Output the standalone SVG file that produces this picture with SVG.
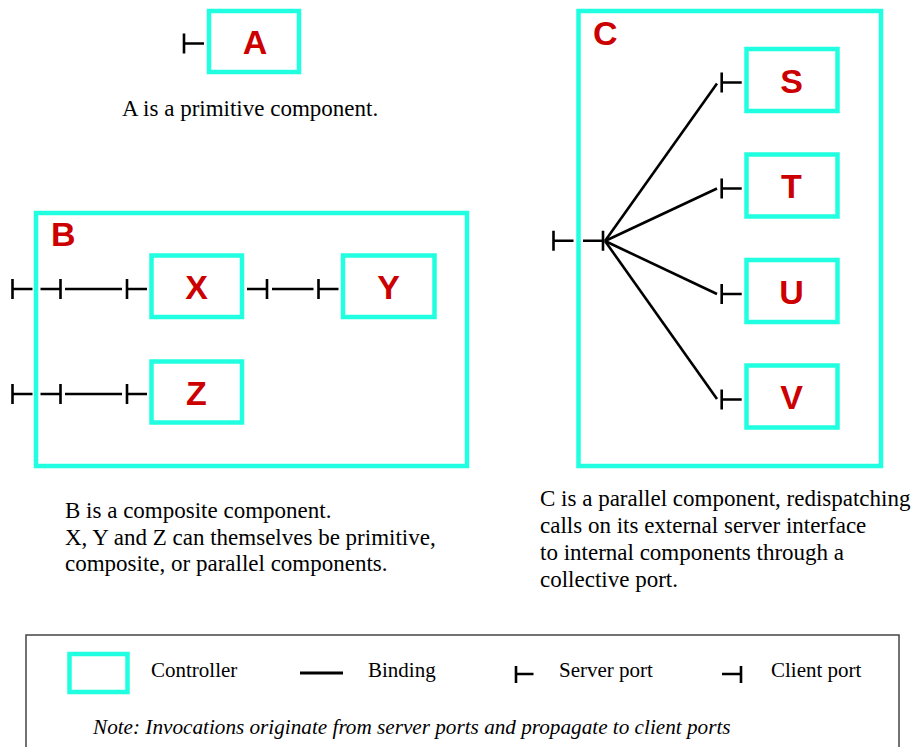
<svg xmlns="http://www.w3.org/2000/svg" xmlns:xlink="http://www.w3.org/1999/xlink" width="912" height="747" viewBox="0 0 912 747">
<style>
.ctrl{fill:#ffffff;stroke:#20ffe0;stroke-width:4.5}
.lbl{font-family:"Liberation Sans",Arial,sans-serif;font-weight:bold;font-size:34px;fill:#cc0000}
.mid{text-anchor:middle}
.port{fill:none;stroke:#000;stroke-width:2.6}
.bind{fill:none;stroke:#000;stroke-width:2.6}
.txt{font-family:"Liberation Serif","Times New Roman",serif;font-size:23px;fill:#000}
.leg{font-family:"Liberation Serif","Times New Roman",serif;font-size:21px;fill:#000}
.note{font-family:"Liberation Serif","Times New Roman",serif;font-size:21.2px;font-style:italic;fill:#000}
</style>
<defs>
<path id="sp" class="port" d="M0,-10 V10 M0,0 H20"/>
<path id="cp" class="port" d="M0,0 H20 M20,-10 V10"/>
</defs>
<rect width="912" height="747" fill="#fff"/>

<g id="node-A">
<rect class="ctrl" x="209" y="11" width="90" height="61"/>
<text class="lbl mid" x="255" y="54">A</text>
</g>

<g id="node-B">
<rect class="ctrl" x="36" y="213" width="431" height="253"/>
<text class="lbl" x="51" y="246">B</text>
</g>
<g id="node-X">
<rect class="ctrl" x="151.5" y="255.5" width="90.5" height="61.5"/>
<text class="lbl mid" x="196.5" y="299">X</text>
</g>
<g id="node-Y">
<rect class="ctrl" x="343" y="255.5" width="91.5" height="61.5"/>
<text class="lbl mid" x="388.5" y="299">Y</text>
</g>
<g id="node-Z">
<rect class="ctrl" x="151.5" y="361.5" width="90.5" height="61"/>
<text class="lbl mid" x="196.5" y="404.5">Z</text>
</g>

<g id="node-C">
<rect class="ctrl" x="578.5" y="11" width="302.5" height="455"/>
<text class="lbl" x="593" y="45">C</text>
</g>
<g id="node-S">
<rect class="ctrl" x="746.5" y="49" width="91" height="62"/>
<text class="lbl mid" x="791.5" y="92.5">S</text>
</g>
<g id="node-T">
<rect class="ctrl" x="746.5" y="154.5" width="91" height="62"/>
<text class="lbl mid" x="791.5" y="198">T</text>
</g>
<g id="node-U">
<rect class="ctrl" x="746.5" y="260" width="91" height="62"/>
<text class="lbl mid" x="791.5" y="303.5">U</text>
</g>
<g id="node-V">
<rect class="ctrl" x="746.5" y="365.5" width="91" height="62"/>
<text class="lbl mid" x="791.5" y="409">V</text>
</g>

<g id="ports">
<use xlink:href="#sp" x="184" y="43.5"/>
<use xlink:href="#sp" x="12.5" y="289"/>
<use xlink:href="#cp" x="40.5" y="289"/>
<use xlink:href="#sp" x="127" y="289"/>
<use xlink:href="#cp" x="247" y="289"/>
<use xlink:href="#sp" x="318.5" y="289"/>
<use xlink:href="#sp" x="12.5" y="394"/>
<use xlink:href="#cp" x="40.5" y="394"/>
<use xlink:href="#sp" x="127" y="394"/>
<use xlink:href="#sp" x="553.5" y="240.7"/>
<use xlink:href="#cp" x="583" y="240.7"/>
<use xlink:href="#sp" x="721.7" y="82.5"/>
<use xlink:href="#sp" x="721.7" y="188.5"/>
<use xlink:href="#sp" x="721.7" y="294"/>
<use xlink:href="#sp" x="721.7" y="399.5"/>
</g>

<g id="connectors">
<path class="bind" d="M65,289 H122"/>
<path class="bind" d="M272,289 H313.5"/>
<path class="bind" d="M65,394 H122"/>
<path class="bind" d="M605,241 L717,83.5"/>
<path class="bind" d="M605,241 L717,188.5"/>
<path class="bind" d="M605,241 L717,294"/>
<path class="bind" d="M605,241 L717,399"/>
</g>

<g id="descriptions">
<text class="txt" x="122" y="116">A is a primitive component.</text>
<text class="txt" x="65" y="518">B is a composite component.</text>
<text class="txt" x="65" y="545">X, Y and Z can themselves be primitive,</text>
<text class="txt" x="65" y="571">composite, or parallel components.</text>
<text class="txt" x="540" y="506">C is a parallel component, redispatching</text>
<text class="txt" x="540" y="533">calls on its external server interface</text>
<text class="txt" x="540" y="560">to internal components through a</text>
<text class="txt" x="540" y="587">collective port.</text>
</g>

<g id="legend">
<rect x="26" y="635" width="873" height="130" fill="none" stroke="#444" stroke-width="1.5"/>
<rect class="ctrl" x="69.5" y="654" width="58" height="38" stroke-width="4"/>
<text class="leg" x="151" y="677">Controller</text>
<path d="M300,673 H343" stroke="#000" stroke-width="3"/>
<text class="leg" x="368" y="677">Binding</text>
<path class="port" d="M516,666 V683 M516,674 H533.5" stroke-width="3.2"/>
<text class="leg" x="559" y="677">Server port</text>
<path class="port" d="M722,674 H741 M741,666 V683" stroke-width="3.2"/>
<text class="leg" x="771" y="677">Client port</text>
<text class="note" x="93" y="734">Note: Invocations originate from server ports and propagate to client ports</text>
</g>
</svg>
